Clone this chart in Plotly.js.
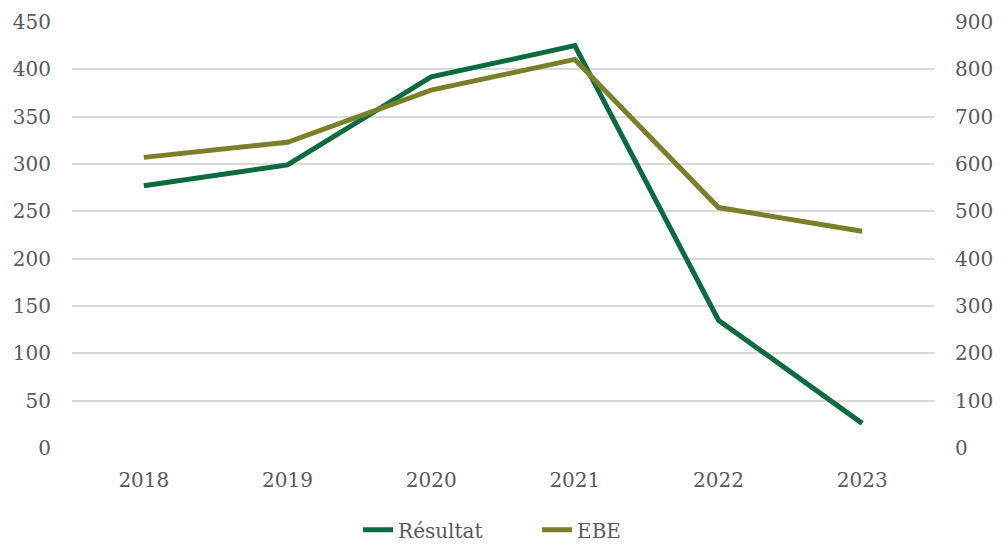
<!DOCTYPE html>
<html><head><meta charset="utf-8">
<script src="https://cdn.plot.ly/plotly-3.0.1.min.js"></script>
<style>html,body{margin:0;padding:0;background:#fff}#chart{width:1003px;height:545px}</style>
</head><body><div id="chart"></div>
<script>
const years = ['2018','2019','2020','2021','2022','2023'];
const resultat = [277, 299, 392, 425, 135, 26];
const ebe = [614, 646, 756, 821, 508, 458];
const leftTicks = [0,50,100,150,200,250,300,350,400,450];
const rightTicks = [0,100,200,300,400,500,600,700,800,900];

const font = {family: 'DejaVu Serif, serif', size: 20, color: '#595959'};
const traces = [
  {x: years, y: resultat, name: 'Résultat', type: 'scatter', mode: 'lines',
   line: {color: '#0a6b3f', width: 5}, yaxis: 'y'},
  {x: years, y: ebe, name: 'EBE', type: 'scatter', mode: 'lines',
   line: {color: '#7a8029', width: 5}, yaxis: 'y2'}
];
const layout = {
  width: 1003, height: 545,
  margin: {l: 72, r: 69, t: 22, b: 97, autoexpand: false},
  paper_bgcolor: '#fff', plot_bgcolor: '#fff',
  font: font,
  showlegend: true,
  legend: {orientation: 'h', x: 0.357, xanchor: 'left', xref: 'container',
           y: 0.028, yanchor: 'middle', yref: 'container', font: font,
           itemwidth: 30, entrywidth: 134, entrywidthmode: 'pixels'},
  xaxis: {type: 'category', range: [-0.5, 5.5], showgrid: false, zeroline: false,
          showline: false, ticks: '', tickfont: font, ticklabelstandoff: 18, automargin: false},
  yaxis: {range: [0, 450], tickvals: leftTicks, ticktext: leftTicks.map(String), showgrid: true,
          gridcolor: '#d9d9d9', gridwidth: 2, zeroline: false, showline: false,
          ticks: '', tickfont: font, ticklabelstandoff: 20, automargin: false},
  yaxis2: {range: [0, 900], tickvals: rightTicks, ticktext: rightTicks.map(String),
           overlaying: 'y', side: 'right', showgrid: false, zeroline: false,
           showline: false, ticks: '', tickfont: font, ticklabelstandoff: 20, automargin: false}
};
Plotly.newPlot('chart', traces, layout, {displayModeBar: false, staticPlot: true});
</script></body></html>
